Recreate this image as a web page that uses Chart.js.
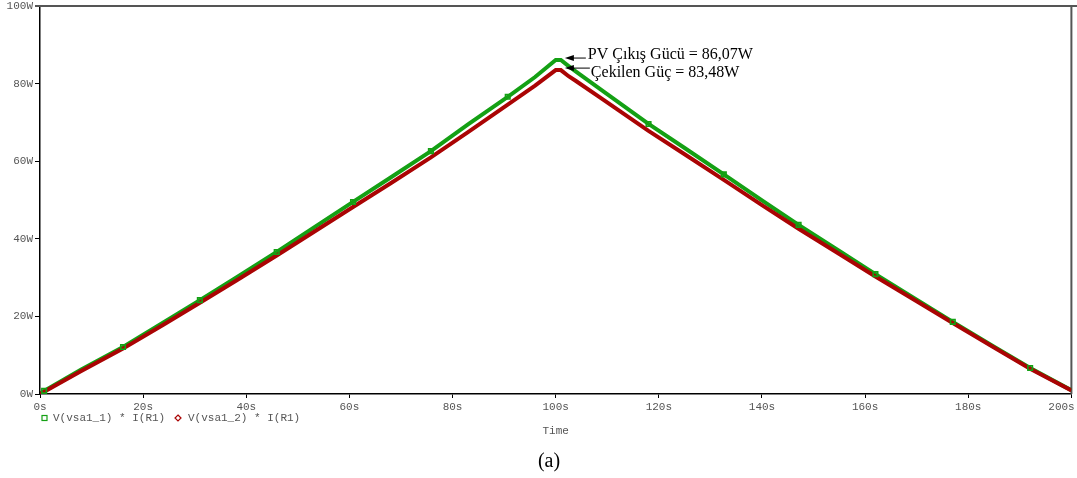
<!DOCTYPE html>
<html>
<head>
<meta charset="utf-8">
<script src="https://cdn.jsdelivr.net/npm/chart.js@4/dist/chart.umd.min.js"></script>
<style>
  html, body { margin: 0; padding: 0; background: #fff; }
  #wrap { width: 1077px; height: 478px; position: relative; }
</style>
</head>
<body>
<div id="wrap"><canvas id="c"></canvas></div>
<script>
// Simulation time (s)
const timeS = [0, 0.8, 8, 16.1, 24, 31, 38, 45.9, 53, 60.7, 68, 75.8, 83, 90.7, 96, 100, 101,
               102.5, 104, 108.5, 118, 125, 132.6, 140, 147.1, 155, 162, 170, 177, 185, 192, 200];
// PV output power V(vsa1_1)*I(R1), W
const pvPower = [0.1, 0.8, 6.3, 12.1, 18.5, 24.2, 30.0, 36.6, 42.8, 49.5, 55.8, 62.6, 69.5, 76.6, 81.7, 86.07, 86.07,
                 84.5, 83.0, 78.7, 69.6, 63.4, 56.6, 49.9, 43.6, 36.9, 30.9, 24.3, 18.6, 12.2, 6.7, 1.0];
// Drawn power V(vsa1_2)*I(R1), W
const loadPower = [0, 0.6, 5.9, 11.7, 17.9, 23.5, 29.2, 35.7, 41.7, 48.2, 54.3, 61.0, 67.5, 74.6, 79.5, 83.48, 83.48,
                   81.9, 80.6, 76.5, 67.8, 61.8, 55.2, 48.7, 42.6, 36.1, 30.3, 23.9, 18.3, 12.0, 6.5, 0.9];
// Trace marker times on the PV curve
const markerTimes = [0.8, 16.1, 31, 45.9, 60.7, 75.8, 90.7, 118, 132.6, 147.1, 162, 177, 192];
// Axis ticks
const xTicks = [0, 20, 40, 60, 80, 100, 120, 140, 160, 180, 200];
const yTicks = [0, 20, 40, 60, 80, 100];
// Annotated peaks
const pvPeak = 86.07, loadPeak = 83.48, peakEnd = 101;
const pvLabel = 'PV Çıkış Gücü = 86,07W';
const loadLabel = 'Çekilen Güç = 83,48W';
const seriesNames = ['V(vsa1_1) * I(R1)', 'V(vsa1_2) * I(R1)'];

const GREEN = '#14a014';
const RED = '#aa0404';
const MONO = '"Liberation Mono", "DejaVu Sans Mono", monospace';
const SERIF = '"Liberation Serif", "DejaVu Serif", serif';

const xy = (xs, ys) => xs.map((x, i) => ({ x, y: ys[i] }));

const decor = {
  id: 'decor',
  beforeDatasetsDraw(chart) {
    const { ctx, chartArea: a } = chart;
    ctx.save();
    ctx.strokeStyle = '#555';
    ctx.lineWidth = 2;
    ctx.beginPath();
    ctx.moveTo(a.left - 5, a.top);
    ctx.lineTo(chart.width, a.top);
    ctx.moveTo(a.right, a.top);
    ctx.lineTo(a.right, a.bottom);
    ctx.stroke();
    ctx.restore();
  },
  afterDraw(chart) {
    const { ctx, scales: { x, y } } = chart;
    ctx.save();
    // peak annotations with arrows
    const arrow = (x0, tipX, tipY) => {
      ctx.strokeStyle = '#000';
      ctx.fillStyle = '#000';
      ctx.lineWidth = 1;
      ctx.beginPath();
      ctx.moveTo(x0, tipY);
      ctx.lineTo(tipX + 6, tipY);
      ctx.stroke();
      ctx.beginPath();
      ctx.moveTo(tipX, tipY);
      ctx.lineTo(tipX + 9, tipY - 3);
      ctx.lineTo(tipX + 9, tipY + 3);
      ctx.closePath();
      ctx.fill();
    };
    const px = x.getPixelForValue(peakEnd);
    const gy = y.getPixelForValue(pvPeak);
    const ry = y.getPixelForValue(loadPeak);
    ctx.font = '16px ' + SERIF;
    ctx.fillStyle = '#000';
    ctx.textBaseline = 'alphabetic';
    ctx.textAlign = 'left';
    ctx.fillText(pvLabel, px + 27, gy - 1);
    ctx.fillText(loadLabel, px + 30, ry + 7);
    arrow(px + 25, px + 4, gy - 2);
    arrow(px + 29, px + 4, ry - 2);

    // legend under the axis
    const ly = 418;
    ctx.font = '11px ' + MONO;
    ctx.textBaseline = 'middle';
    ctx.lineWidth = 1.2;
    ctx.strokeStyle = GREEN;
    ctx.strokeRect(42, ly - 2.5, 5, 5);
    ctx.fillStyle = '#555';
    ctx.fillText(seriesNames[0], 53, ly);
    ctx.strokeStyle = RED;
    ctx.beginPath();
    ctx.moveTo(178, ly - 3);
    ctx.lineTo(181, ly);
    ctx.lineTo(178, ly + 3);
    ctx.lineTo(175, ly);
    ctx.closePath();
    ctx.stroke();
    ctx.fillStyle = '#555';
    ctx.fillText(seriesNames[1], 188, ly);

    // caption
    ctx.font = '20px ' + SERIF;
    ctx.fillStyle = '#000';
    ctx.textAlign = 'center';
    ctx.fillText('(a)', 549, 462);
    ctx.restore();
  }
};

new Chart(document.getElementById('c'), {
  type: 'line',
  data: {
    datasets: [
      {
        label: seriesNames[0] + ' markers',
        data: xy(markerTimes, markerTimes.map(t => pvPower[timeS.indexOf(t)])),
        showLine: false,
        pointStyle: 'rect',
        pointRadius: 3.2,
        pointBorderWidth: 1.6,
        pointBorderColor: GREEN,
        pointBackgroundColor: 'rgba(0,0,0,0)',
        order: 0
      },
      {
        label: seriesNames[1],
        data: xy(timeS, loadPower),
        borderColor: RED,
        borderWidth: 4,
        pointRadius: 0,
        tension: 0,
        borderJoinStyle: 'miter',
        order: 1
      },
      {
        label: seriesNames[0],
        data: xy(timeS, pvPower),
        borderColor: GREEN,
        borderWidth: 4,
        pointRadius: 0,
        tension: 0,
        borderJoinStyle: 'miter',
        order: 2
      }
    ]
  },
  options: {
    responsive: true,
    maintainAspectRatio: false,
    devicePixelRatio: 1,
    animation: false,
    events: [],
    layout: { padding: { top: 6, right: 5, left: 0, bottom: 0 } },
    plugins: { legend: { display: false }, tooltip: { enabled: false } },
    scales: {
      x: {
        type: 'linear',
        min: 0, max: 200,
        afterFit: s => { s.height = 84; s.paddingLeft = 0; s.paddingRight = 0; },
        afterBuildTicks: s => { s.ticks = xTicks.map(v => ({ value: v })); },
        ticks: {
          // the last label is nudged left so it stays inside the canvas
          callback: v => v === xTicks[xTicks.length - 1] ? v + 's   ' : v + 's',
          font: { family: MONO, size: 11 },
          color: '#555',
          padding: 2,
          maxRotation: 0,
          autoSkip: false
        },
        grid: { drawOnChartArea: false, drawTicks: true, tickLength: 4, color: '#000', lineWidth: 1 },
        border: { display: true, color: '#000', width: 1.5 },
        title: {
          display: true,
          text: 'Time',
          font: { family: MONO, size: 11 },
          color: '#555',
          padding: { top: 0, bottom: 40 }
        }
      },
      y: {
        min: 0, max: 100,
        afterFit: s => { s.width = 40; s.paddingTop = 0; s.paddingBottom = 0; },
        afterBuildTicks: s => { s.ticks = yTicks.map(v => ({ value: v })); },
        ticks: {
          callback: v => v + 'W',
          font: { family: MONO, size: 11 },
          color: '#555',
          padding: 2
        },
        grid: { drawOnChartArea: false, drawTicks: true, tickLength: 5, color: '#000', lineWidth: 1 },
        border: { display: true, color: '#000', width: 1.5 }
      }
    }
  },
  plugins: [decor]
});
</script>
</body>
</html>
